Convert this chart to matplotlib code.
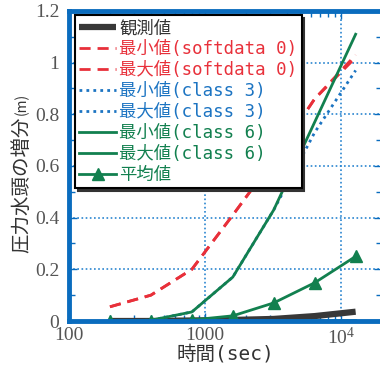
import matplotlib
matplotlib.use("Agg")
import matplotlib.pyplot as plt
from matplotlib.ticker import FixedLocator, NullFormatter, MultipleLocator, LogLocator

plt.rcParams['font.family'] = ['Noto Sans CJK JP', 'DejaVu Sans']
plt.rcParams['mathtext.fontset'] = 'custom'
plt.rcParams['mathtext.rm'] = 'Liberation Serif'

# data
t = [200, 400, 800, 1600, 3200, 6400, 12800]
obs = [0, 0, 0.002, 0.004, 0.008, 0.019, 0.036]
soft0_min = [0.055, 0.10, 0.20, 0.41, 0.625, 0.86, 1.02]
soft0_max = [0.055, 0.10, 0.20, 0.41, 0.625, 0.86, 1.03]
cls3_min = [0, 0, 0, 0, 0, 0, 0.002]
cls3_max = [0, 0.003, 0.035, 0.17, 0.43, 0.73, 0.97]
cls6_min = [0, 0, 0, 0, 0, 0, 0.002]
cls6_max = [0, 0.003, 0.035, 0.17, 0.43, 0.77, 1.11]
avg = [0, 0, 0.004, 0.02, 0.07, 0.148, 0.25]

xticks = [100, 1000, 10000]
xticklabels = ['100', '1000', r'$\mathregular{10^4}$']
yticks = [0, 0.2, 0.4, 0.6, 0.8, 1.0, 1.2]
yticklabels = ['0', '0.2', '0.4', '0.6', '0.8', '1', '1.2']

red = '#E8303A'
blue = '#1C74C2'
green = '#12804F'
black = '#383838'
spine = '#0A6CBE'

fig = plt.figure(figsize=(3.8, 3.7), dpi=100)
ax = fig.add_axes([69/380, 1 - 321/370, 313/380, 310/370])

ax.plot(t, obs, color=black, lw=4.5, solid_capstyle='butt', label='観測値')
ax.plot(t, soft0_min, color=red, lw=2, ls=(0, (4, 2.5)), label='最小値(softdata 0)')
ax.plot(t, soft0_max, color=red, lw=2, ls=(0, (4, 2.5)), label='最大値(softdata 0)')
ax.plot(t, cls3_min, color=blue, lw=2, ls=(0, (1, 1.5)), label='最小値(class 3)')
ax.plot(t, cls3_max, color=blue, lw=2, ls=(0, (1, 1.5)), label='最大値(class 3)')
ax.plot(t, cls6_min, color=green, lw=2, label='最小値(class 6)')
ax.plot(t, cls6_max, color=green, lw=2, label='最大値(class 6)')
ax.plot(t, avg, color=green, lw=2, marker='^', ms=9, label='平均値')

ax.set_xscale('log')
ax.set_xlim(100, 20000)
ax.set_ylim(0, 1.2)

ax.xaxis.set_major_locator(FixedLocator(xticks))
ax.set_xticklabels(xticklabels)
ax.xaxis.set_minor_locator(LogLocator(base=10, subs=range(2, 10)))
ax.xaxis.set_minor_formatter(NullFormatter())
ax.set_yticks(yticks)
ax.set_yticklabels(yticklabels)
ax.yaxis.set_minor_locator(MultipleLocator(0.1))

for lab in ax.get_xticklabels() + ax.get_yticklabels():
    lab.set_family('Liberation Serif')
    lab.set_fontsize(14)
    lab.set_color('#555555')

ax.tick_params(which='both', direction='in', top=True, right=True, color=spine)
ax.tick_params(which='major', length=6, width=1)
ax.tick_params(which='minor', length=4, width=1)
ax.tick_params(axis='x', pad=4)
ax.tick_params(axis='y', pad=7)

ax.grid(True, which='major', color='#2A85D0', ls=(0, (1, 1.5)), lw=1.2)

for s in ax.spines.values():
    s.set_color(spine)
    s.set_linewidth(3.5)

ax.set_xlabel('時間(sec)', fontsize=14, color='#333333', labelpad=-2,
              family=['DejaVu Sans Mono', 'Noto Sans CJK JP'])
fig.text(22/380, 1 - 253/370, '圧力水頭の増分', rotation=90, fontsize=14,
         color='#333333', ha='center', va='bottom')
fig.text(22/380, 1 - 115/370, '(m)', rotation=90, fontsize=10,
         color='#333333', ha='center', va='bottom')

leg = ax.legend(loc='upper left', bbox_to_anchor=(0.019, 0.987), borderaxespad=0,
                fancybox=False, shadow={'color': '#333333', 'alpha': 1},
                edgecolor='black', framealpha=1,
                handlelength=2.1, handletextpad=0.2, labelspacing=0.17,
                borderpad=0.25,
                prop={'family': ['DejaVu Sans Mono', 'Noto Sans CJK JP'], 'size': 12.5})
leg.get_frame().set_linewidth(1.5)
for txt, line in zip(leg.get_texts(), leg.get_lines()):
    txt.set_color(line.get_color())
leg.get_texts()[0].set_color('#333333')

fig.savefig('out.png', dpi=100)
